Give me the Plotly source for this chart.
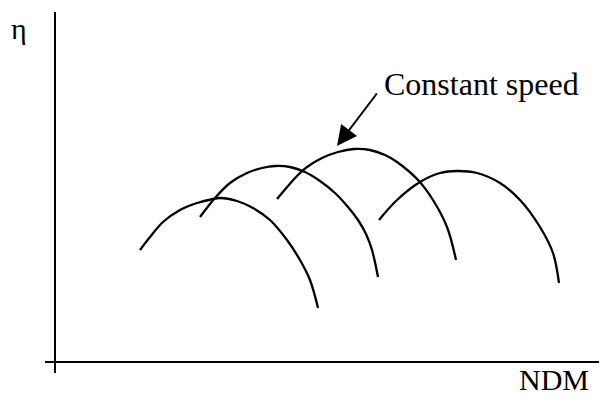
import plotly.graph_objects as go

# Values (arbitrary units: NDM horizontal, eta vertical)
curve1_ndm = [85, 95, 108, 125, 142, 158, 165, 182, 198, 215, 232, 245, 255, 263]
curve1_eta = [112, 125, 140, 152, 159, 163, 164, 161, 154, 142, 122, 102, 82, 54]

curve2_ndm = [145, 160, 175, 192, 207, 220, 235, 250, 265, 280, 293, 303, 311, 317, 323]
curve2_eta = [145, 164, 179, 189, 194, 196, 195, 190, 181, 169, 155, 142, 128, 112, 85]

curve3_ndm = [222, 233, 242, 252, 267, 283, 299, 315, 330, 342, 363, 378, 392, 401]
curve3_eta = [163, 176, 186, 195, 204, 210, 213, 212, 207, 200, 182, 162, 135, 102]

curve4_ndm = [324, 342, 365, 385, 402, 422, 445, 465, 485, 498, 504]
curve4_eta = [142, 162, 180, 189, 191, 189, 179, 162, 135, 109, 79]

curves = [(curve1_ndm, curve1_eta), (curve2_ndm, curve2_eta),
          (curve3_ndm, curve3_eta), (curve4_ndm, curve4_eta)]

x_label = "NDM"
y_label = "η"
note_label = "Constant speed"

FONT = "Liberation Serif, Times New Roman, serif"

fig = go.Figure()
for xs, ys in curves:
    fig.add_trace(go.Scatter(x=xs, y=ys, mode="lines",
                             line=dict(color="black", width=2.3, shape="spline", smoothing=1.0),
                             hoverinfo="skip", showlegend=False))

# axes drawn as lines crossing at the origin
fig.add_shape(type="line", x0=-10, x1=552, y0=0, y1=0, xref="x", yref="y",
              line=dict(color="black", width=2))
fig.add_shape(type="line", x0=0, x1=0, y0=-11, y1=350, xref="x", yref="y",
              line=dict(color="black", width=2))

fig.add_annotation(x=-36, y=334, text=y_label, showarrow=False, xref="x", yref="y",
                   font=dict(family=FONT, size=30, color="black"))
fig.add_annotation(x=499, y=-17, text=x_label, showarrow=False, xref="x", yref="y",
                   font=dict(family=FONT, size=30, color="black"))
fig.add_annotation(x=327, y=278, text=note_label, showarrow=False, xref="x", yref="y",
                   xanchor="left", yanchor="middle",
                   font=dict(family=FONT, size=32, color="black"))
fig.add_annotation(x=282, y=216, ax=323, ay=270, axref="x", ayref="y", xref="x", yref="y",
                   text="", showarrow=True, arrowhead=2, arrowsize=2.0, arrowwidth=2,
                   arrowcolor="black")

# the page body keeps an 8px margin, so the figure is 8px smaller and ranges start 8px in
fig.update_layout(width=599, height=390, margin=dict(l=0, r=0, t=0, b=0),
                  plot_bgcolor="white", paper_bgcolor="white",
                  xaxis=dict(range=[-47, 552], visible=False),
                  yaxis=dict(range=[-36, 354], visible=False))

fig.write_html("out.html", config={"displayModeBar": False})
